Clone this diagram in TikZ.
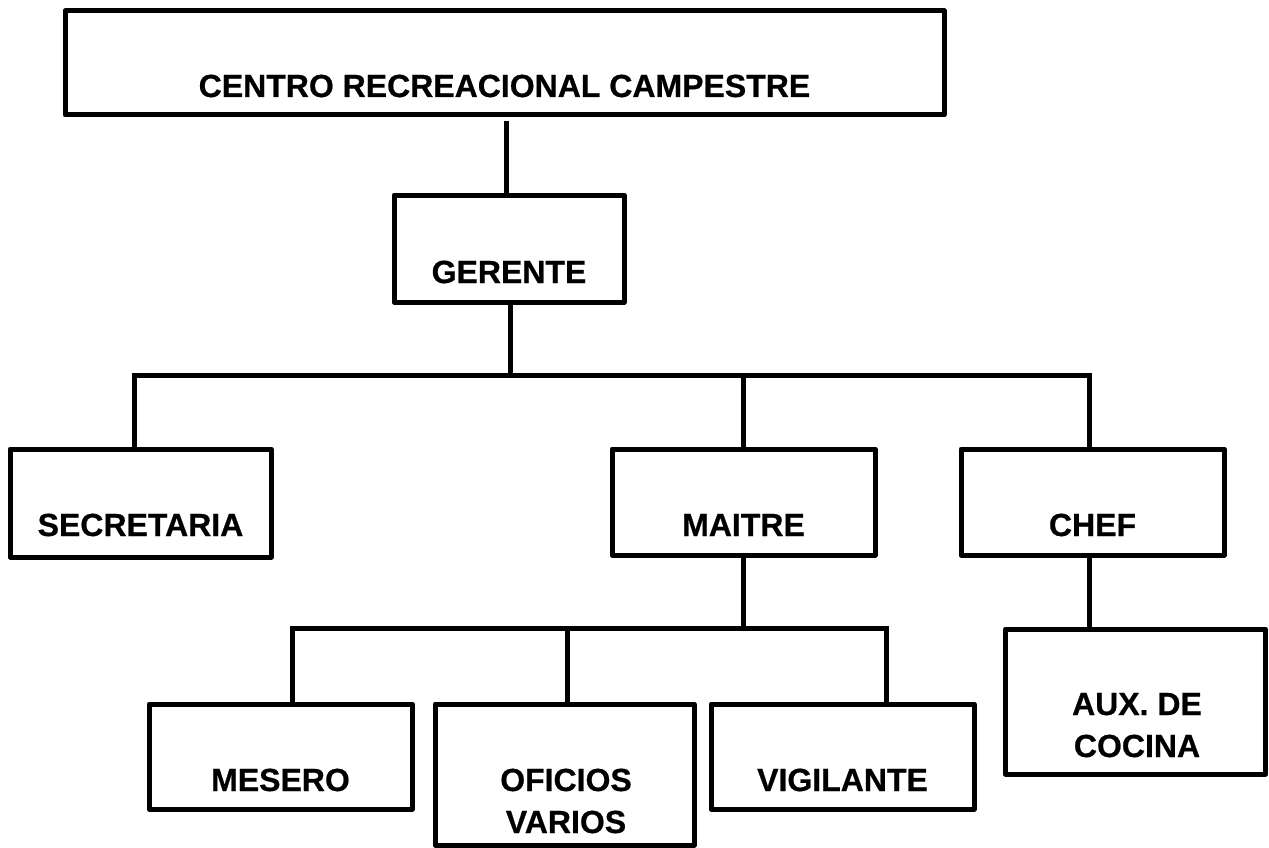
\documentclass[tikz,border=0pt]{standalone}
\usepackage{fontspec}
\setmainfont{Liberation Sans}[BoldFeatures={FakeBold=0.6}]
\begin{document}
\begin{tikzpicture}[x=1pt,y=-1pt,
  box/.style={draw, line width=5pt, line join=round, rectangle, inner sep=0pt},
  lbl/.style={font=\fontsize{32}{36}\selectfont\bfseries, inner sep=0pt, anchor=base},
  conn/.style={line width=5pt}]
\useasboundingbox (0,0) rectangle (1269,848);
% boxes
\node[box, minimum width=879pt, minimum height=104pt] (top) at (504.5,63) {};
\node[box, minimum width=230pt, minimum height=107pt] (ger) at (509,248.5) {};
\node[box, minimum width=261pt, minimum height=108pt] (sec) at (140.5,503) {};
\node[box, minimum width=263pt, minimum height=106pt] (mai) at (743.5,502) {};
\node[box, minimum width=263pt, minimum height=106pt] (chef) at (1092.5,502) {};
\node[box, minimum width=263pt, minimum height=105pt] (mes) at (280.5,756.5) {};
\node[box, minimum width=259pt, minimum height=141pt] (ofi) at (564.5,774.5) {};
\node[box, minimum width=263pt, minimum height=105pt] (vig) at (842.5,756.5) {};
\node[box, minimum width=260pt, minimum height=145pt] (aux) at (1135.5,701.5) {};
% labels
\node[lbl] (ttop) at (504.5,97) {CENTRO RECREACIONAL CAMPESTRE};
\node[lbl] (tger) at (509,283) {GERENTE};
\node[lbl] (tsec) at (140.5,536) {SECRETARIA};
\node[lbl] (tmai) at (743.5,536) {MAITRE};
\node[lbl] (tchef) at (1092.5,536) {CHEF};
\node[lbl] (tmes) at (280.5,791) {MESERO};
\node[lbl] (tofi1) at (566,791) {OFICIOS};
\node[lbl] (tofi2) at (566,833) {VARIOS};
\node[lbl] (tvig) at (842.5,791) {VIGILANTE};
\node[lbl] (taux1) at (1137,715) {AUX. DE};
\node[lbl] (taux2) at (1137,757) {COCINA};
% connector junctions
\coordinate (j1) at (510,375.5);
\coordinate (jl) at (134,375.5);
\coordinate (jm) at (743,375.5);
\coordinate (jr) at (1089,375.5);
\coordinate (k1) at (743,628);
\coordinate (kl) at (292,628);
\coordinate (km) at (567,628);
\coordinate (kr) at (886,628);
% connectors
\draw[conn] (506,121) -- (506,195);
\draw[conn] (ger.south -| j1) -- (510,378);
\draw[conn] (jl |- sec.north) -- (jl) -- (jr) -- (jr |- chef.north);
\draw[conn] (jm) -- (jm |- mai.north);
\draw[conn] (k1 |- mai.south) -- (k1);
\draw[conn] (kl |- mes.north) -- (kl) -- (kr) -- (kr |- vig.north);
\draw[conn] (km) -- (km |- ofi.north);
\draw[conn] (chef.south -| jr) -- (jr |- aux.north);
\end{tikzpicture}
\end{document}
